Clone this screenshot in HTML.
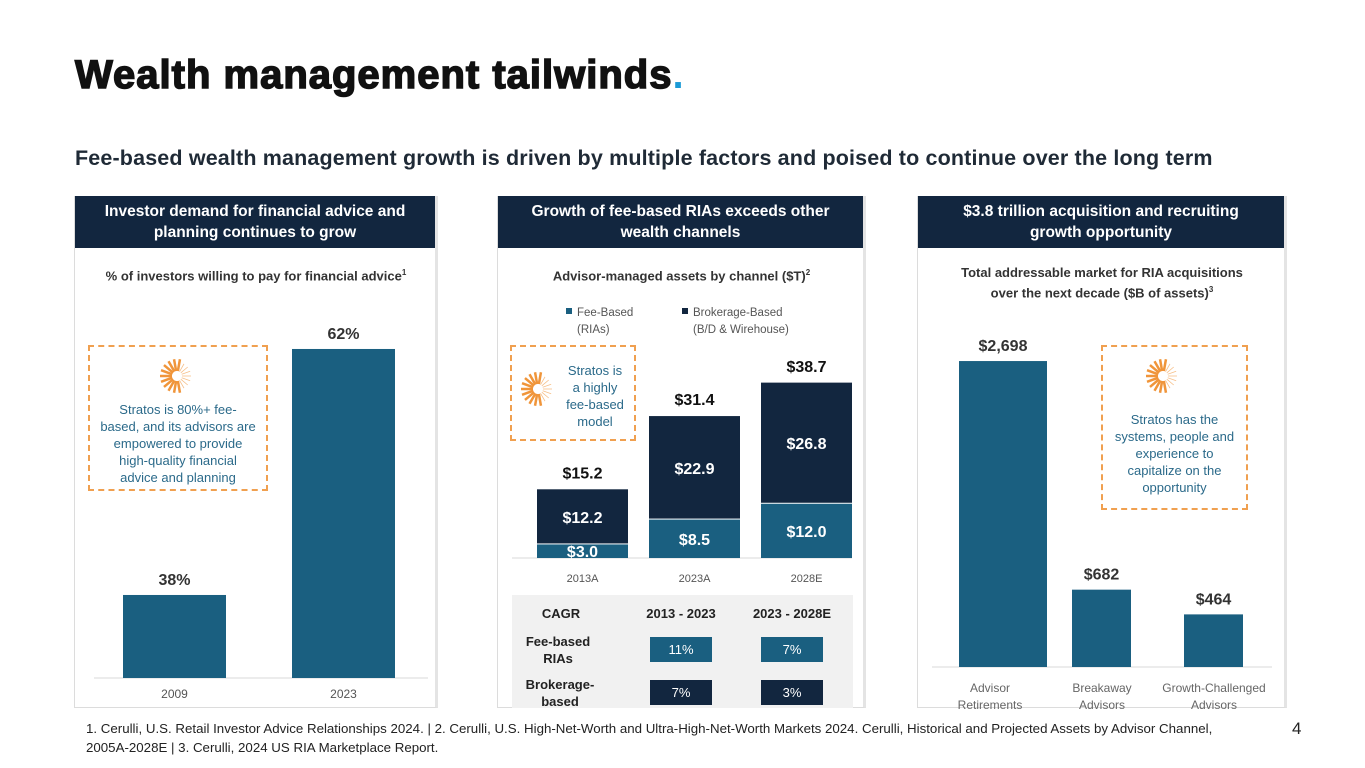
<!DOCTYPE html>
<html><head><meta charset="utf-8">
<style>
*{margin:0;padding:0;box-sizing:border-box}
body{width:1365px;height:768px;background:#fff;position:relative;overflow:hidden;font-family:"Liberation Sans",sans-serif;color:#222}
.abs{position:absolute}
.title{left:75px;top:53px;font-size:40px;font-weight:900;color:#111;letter-spacing:1px;-webkit-text-stroke:1.5px #111}
.sub{left:75px;top:146px;font-size:21.5px;font-weight:bold;color:#1f2a36;letter-spacing:0.15px}
.panel{border:1px solid #dcdcdc;border-right:3px solid #e4e4e4;border-top:none}
.head{background:#12263f;color:#fff;font-weight:bold;font-size:15.5px;text-align:center;line-height:21px;display:flex;align-items:center;justify-content:center;height:52px}
.ctitle{font-size:13px;font-weight:bold;color:#333;text-align:center;line-height:17px}
.callout{border:2.5px dashed #f0a050;color:#2b6a8a;font-size:13px;text-align:center;line-height:17px}
.foot{left:86px;top:719px;font-size:13.3px;color:#222;line-height:19px;width:1160px}
svg text{font-family:"Liberation Sans",sans-serif}
</style></head><body>
<div class="abs title">Wealth management tailwinds<span style="color:#1a9ad6;-webkit-text-stroke:0">.</span></div>
<div class="abs sub">Fee-based wealth management growth is driven by multiple factors and poised to continue over the long term</div>

<div class="abs panel" style="left:74px;top:196px;width:364px;height:512px">
<div class="head">Investor demand for financial advice and<br>planning continues to grow</div></div>
<div class="abs ctitle" style="left:74px;top:264px;width:364px">% of investors willing to pay for financial advice<sup style="font-size:8px">1</sup></div>

<div class="abs panel" style="left:497px;top:196px;width:369px;height:512px">
<div class="head">Growth of fee-based RIAs exceeds other<br>wealth channels</div></div>
<div class="abs ctitle" style="left:497px;top:264px;width:369px">Advisor-managed assets by channel ($T)<sup style="font-size:8px">2</sup></div>

<div class="abs panel" style="left:917px;top:196px;width:370px;height:512px">
<div class="head">$3.8 trillion acquisition and recruiting<br>growth opportunity</div></div>
<div class="abs ctitle" style="left:917px;top:264px;width:370px">Total addressable market for RIA acquisitions<br>over the next decade ($B of assets)<sup style="font-size:8px">3</sup></div>

<svg class="abs" style="left:0;top:0" width="1365" height="768" id="charts"></svg>

<div class="abs callout" style="left:88px;top:345px;width:180px;height:146px;padding:54px 4px 0">Stratos is 80%+ fee-<br>based, and its advisors are<br>empowered to provide<br>high-quality financial<br>advice and planning</div>
<div class="abs callout" style="left:510px;top:345px;width:126px;height:96px;padding:15px 6px 0 50px">Stratos is<br>a highly<br>fee-based<br>model</div>
<div class="abs callout" style="left:1101px;top:345px;width:147px;height:165px;padding:64px 10px 0">Stratos has the systems, people and experience to capitalize on the opportunity</div>

<div class="abs foot">1. Cerulli, U.S. Retail Investor Advice Relationships 2024. | 2. Cerulli, U.S. High-Net-Worth and Ultra-High-Net-Worth Markets 2024. Cerulli, Historical and Projected Assets by Advisor Channel,<br>2005A-2028E | 3. Cerulli, 2024 US RIA Marketplace Report.</div>
<div class="abs" style="left:1292px;top:719px;font-size:17px">4</div>

<script>
const c1Cats=["2009","2023"];
const c1Vals=[38,62];
const c2Cats=["2013A","2023A","2028E"];
const c2Fee=[3.0,8.5,12.0];
const c2Brk=[12.2,22.9,26.8];
const c2Tot=[15.2,31.4,38.7];
const c3Cats=[["Advisor","Retirements"],["Breakaway","Advisors"],["Growth-Challenged","Advisors"]];
const c3Vals=[2698,682,464];
const cagrHead=["CAGR","2013 - 2023","2023 - 2028E"];
const cagrFee=["11%","7%"];
const cagrBrk=["7%","3%"];

const NS="http://www.w3.org/2000/svg";
const svg=document.getElementById('charts');
function mk(t,a,txt){const e=document.createElementNS(NS,t);for(const k in a)e.setAttribute(k,a[k]);if(txt!==undefined)e.textContent=txt;svg.appendChild(e);return e;}
const TEAL="#1a5f80",NAVY="#12263f";

// Chart 1
const y1=v=>678-(v-29.9)*10.25;
const x1=[123,292],w1=103;
mk('line',{x1:94,x2:428,y1:678,y2:678,stroke:'#d9d9d9'});
c1Vals.forEach((v,i)=>{
 const r=mk('rect',{x:x1[i],y:y1(v),width:w1,height:678-y1(v),fill:TEAL});
 
 
 mk('text',{x:x1[i]+w1/2,y:y1(v)-10,'text-anchor':'middle','font-size':16,'font-weight':'bold',fill:'#333'},v+'%');
 mk('text',{x:x1[i]+w1/2,y:698,'text-anchor':'middle','font-size':12,fill:'#555'},c1Cats[i]);
});

// Chart 2
const k2=4.52,b2=558,x2=[537,649,761],w2=91;
mk('line',{x1:512,x2:852,y1:558,y2:558,stroke:'#d9d9d9'});
c2Cats.forEach((c,i)=>{
 const hf=c2Fee[i]*k2,hb=c2Brk[i]*k2;
 const rf=mk('rect',{x:x2[i],y:b2-hf,width:w2,height:hf,fill:TEAL});
 
 
 const rb=mk('rect',{x:x2[i],y:b2-hf-hb,width:w2,height:hb-1,fill:NAVY});
 
 
 const cx=x2[i]+w2/2;
 mk('text',{x:cx,y:Math.min(b2-hf/2+6,b2+4),'text-anchor':'middle','font-size':16,'font-weight':'bold',fill:'#fff'},'$'+c2Fee[i].toFixed(1));
 mk('text',{x:cx,y:b2-hf-hb/2+6,'text-anchor':'middle','font-size':16,'font-weight':'bold',fill:'#fff'},'$'+c2Brk[i].toFixed(1));
 mk('text',{x:cx,y:b2-c2Tot[i]*k2-11,'text-anchor':'middle','font-size':16,'font-weight':'bold',fill:'#111'},'$'+c2Tot[i].toFixed(1));
 mk('text',{x:cx,y:582,'text-anchor':'middle','font-size':11,fill:'#555'},c);
});
// legend
mk('rect',{x:566,y:308,width:6,height:6,fill:TEAL});
mk('text',{x:577,y:316,'font-size':11.5,fill:'#555'},'Fee-Based');
mk('text',{x:577,y:333,'font-size':11.5,fill:'#555'},'(RIAs)');
mk('rect',{x:682,y:308,width:6,height:6,fill:NAVY});
mk('text',{x:693,y:316,'font-size':11.5,fill:'#555'},'Brokerage-Based');
mk('text',{x:693,y:333,'font-size':11.5,fill:'#555'},'(B/D & Wirehouse)');
// table
mk('rect',{x:512,y:595,width:341,height:113,fill:'#f1f1f1'});
const tx=[561,681,792];
cagrHead.forEach((h,i)=>mk('text',{x:tx[i],y:618,'text-anchor':'middle','font-size':13,'font-weight':'bold',fill:'#222'},h));
mk('text',{x:558,y:646,'text-anchor':'middle','font-size':13,'font-weight':'bold',fill:'#222'},'Fee-based');
mk('text',{x:558,y:663,'text-anchor':'middle','font-size':13,'font-weight':'bold',fill:'#222'},'RIAs');
mk('text',{x:560,y:689,'text-anchor':'middle','font-size':13,'font-weight':'bold',fill:'#222'},'Brokerage-');
mk('text',{x:560,y:706,'text-anchor':'middle','font-size':13,'font-weight':'bold',fill:'#222'},'based');
[cagrFee,cagrBrk].forEach((row,r)=>row.forEach((v,i)=>{
 const cx=tx[i+1],yy=r?680:637;
 mk('rect',{x:cx-31,y:yy,width:62,height:25,fill:r?NAVY:TEAL});
 mk('text',{x:cx,y:yy+17,'text-anchor':'middle','font-size':13,fill:'#fff'},v);
}));

// Chart 3
const k3=0.1134,b3=667,x3=[959,1072,1184],w3=[88,59,59];
mk('line',{x1:932,x2:1272,y1:667,y2:667,stroke:'#d9d9d9'});
c3Vals.forEach((v,i)=>{
 const h=v*k3;
 const r=mk('rect',{x:x3[i],y:b3-h,width:w3[i],height:h,fill:TEAL});
 
 
 const cx=x3[i]+w3[i]/2;
 mk('text',{x:cx,y:b3-h-10,'text-anchor':'middle','font-size':16,'font-weight':'bold',fill:'#333'},'$'+v.toLocaleString('en-US'));
 const lx=[990,1102,1214][i];
 mk('text',{x:lx,y:692,'text-anchor':'middle','font-size':12,fill:'#666'},c3Cats[i][0]);
 mk('text',{x:lx,y:709,'text-anchor':'middle','font-size':12,fill:'#666'},c3Cats[i][1]);
});

// sunburst icons
function sun(cx,cy){
 for(let a=0;a<360;a+=20){
  const r=a*Math.PI/180;const left=Math.cos(r)<0.2;
  mk('line',{x1:cx+Math.cos(r)*5,y1:cy+Math.sin(r)*5,x2:cx+Math.cos(r)*(left?17:14),y2:cy+Math.sin(r)*(left?17:14),stroke:'#f0953a','stroke-width':left?2.5:0.8,opacity:left?1:0.6});
 }
}
sun(177,376);sun(538,389);sun(1163,376);
</script>
</body></html>
